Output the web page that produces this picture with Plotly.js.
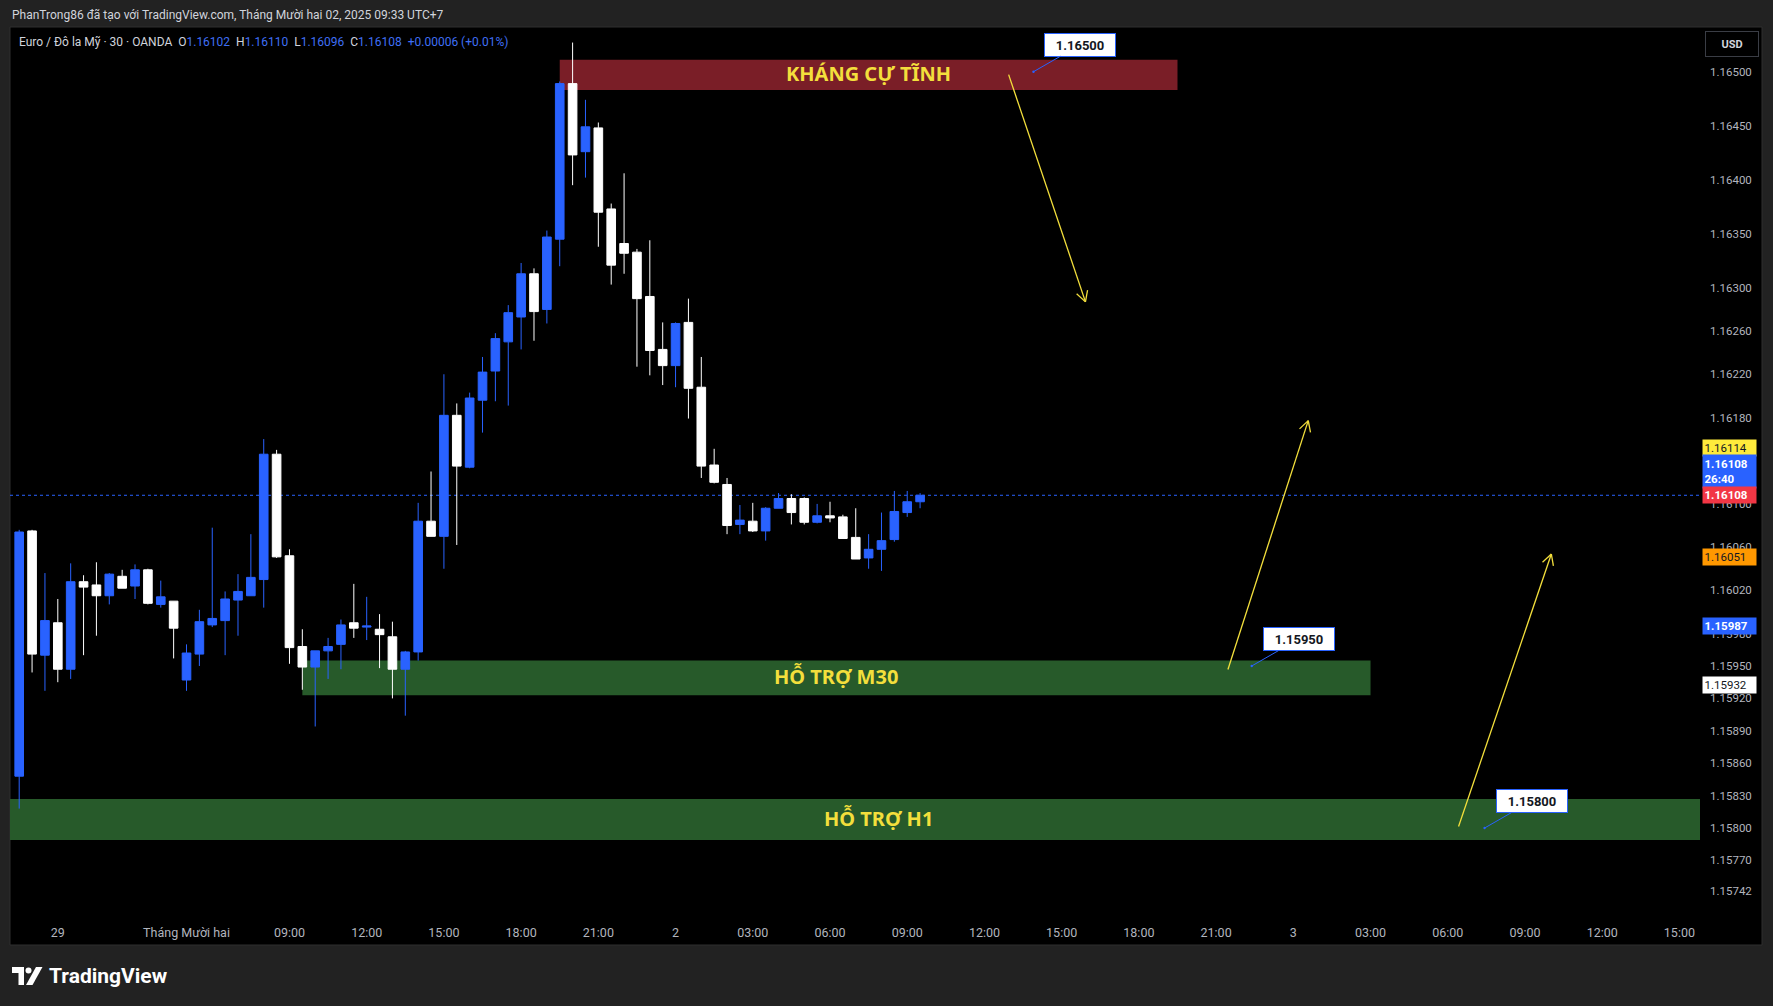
<!DOCTYPE html>
<html><head><meta charset="utf-8">
<script src="https://cdn.plot.ly/plotly-3.0.1.min.js"></script>
<style>html,body{margin:0;padding:0;background:#222222;} #chart{width:1773px;height:1006px;}</style>
</head><body><div id="chart"></div>
<script>
// ---- data (EUR/USD, OANDA, 30 min, index 0 = 28 Nov 22:30 UTC+7) ----
const openP  = [1.15848,1.16075,1.15960,1.15990,1.15947,1.16028,1.16025,1.16015,1.16033,1.16024,
                1.16039,1.16007,1.16010,1.15937,1.15961,1.15988,1.15992,1.16011,1.16015,1.16030,
                1.16146,1.16052,1.15968,1.15949,1.15964,1.15970,1.15990,1.15986,1.15984,1.15977,
                1.15947,1.15963,1.16084,1.16070,1.16182,1.16134,1.16196,1.16223,1.16250,1.16273,
                1.16313,1.16280,1.16345,1.16489,1.16426,1.16448,1.16373,1.16341,1.16333,1.16292,
                1.16243,1.16228,1.16268,1.16208,1.16136,1.16118,1.16081,1.16084,1.16075,1.16096,
                1.16105,1.16105,1.16083,1.16089,1.16088,1.16069,1.16050,1.16058,1.16067,1.16092,
                1.16102];
const highP  = [1.16076,1.16076,1.16036,1.16012,1.16045,1.16034,1.16046,1.16036,1.16039,1.16044,
                1.16040,1.16029,1.16010,1.15970,1.16002,1.16078,1.16019,1.16035,1.16072,1.16160,
                1.16150,1.16058,1.15984,1.15964,1.15976,1.15993,1.16026,1.16014,1.15998,1.15991,
                1.15964,1.16101,1.16130,1.16220,1.16193,1.16203,1.16236,1.16258,1.16284,1.16323,
                1.16318,1.16353,1.16491,1.16527,1.16474,1.16453,1.16378,1.16406,1.16336,1.16344,
                1.16268,1.16268,1.16290,1.16236,1.16151,1.16124,1.16099,1.16101,1.16097,1.16110,
                1.16109,1.16106,1.16100,1.16102,1.16090,1.16096,1.16072,1.16092,1.16112,1.16112,
                1.16110];
const lowP   = [1.15818,1.15944,1.15927,1.15935,1.15938,1.15960,1.15978,1.16007,1.16022,1.16012,
                1.16007,1.16004,1.15957,1.15927,1.15950,1.15986,1.15960,1.15978,1.16015,1.16004,
                1.16050,1.15952,1.15928,1.15894,1.15938,1.15947,1.15976,1.15974,1.15948,1.15920,
                1.15904,1.15955,1.16070,1.16040,1.16062,1.16133,1.16166,1.16195,1.16191,1.16243,
                1.16251,1.16267,1.16320,1.16395,1.16402,1.16338,1.16303,1.16313,1.16227,1.16219,
                1.16210,1.16208,1.16179,1.16124,1.16119,1.16072,1.16072,1.16074,1.16066,1.16096,
                1.16081,1.16081,1.16082,1.16083,1.16068,1.16049,1.16040,1.16038,1.16065,1.16088,
                1.16096];
const closeP = [1.16074,1.15961,1.15992,1.15947,1.16028,1.16023,1.16015,1.16035,1.16022,1.16039,
                1.16008,1.16014,1.15985,1.15962,1.15991,1.15994,1.16012,1.16019,1.16032,1.16146,
                1.16051,1.15967,1.15949,1.15964,1.15968,1.15988,1.15985,1.15987,1.15979,1.15947,
                1.15963,1.16084,1.16070,1.16182,1.16135,1.16198,1.16222,1.16253,1.16277,1.16313,
                1.16278,1.16347,1.16489,1.16423,1.16449,1.16370,1.16321,1.16332,1.16290,1.16242,
                1.16228,1.16267,1.16207,1.16135,1.16120,1.16080,1.16085,1.16075,1.16096,1.16105,
                1.16092,1.16083,1.16089,1.16087,1.16068,1.16049,1.16058,1.16066,1.16093,1.16102,
                1.16108];
const timeTickIdx  = [3,13,21,27,33,39,45,51,57,63,69,75,81,87,93,99,105,111,117,123,129];
const timeTickText = ['29','Tháng Mười hai','09:00','12:00','15:00','18:00','21:00','2','03:00','06:00',
                      '09:00','12:00','15:00','18:00','21:00','3','03:00','06:00','09:00','12:00','15:00'];
const priceTicks = [1.16500,1.16450,1.16400,1.16350,1.16300,1.16260,1.16220,1.16180,1.16100,
                    1.16060,1.16020,1.15980,1.15950,1.15920,1.15890,1.15860,1.15830,1.15800,1.15770,1.15742];
const lastClose = 1.16108;
const zoneNames = ['KHÁNG CỰ TĨNH','HỖ TRỢ M30','HỖ TRỢ H1'];
const zoneLow   = [1.16483,1.15923,1.15789];
const zoneHigh  = [1.16511,1.15955,1.15827];
const calloutPrices = [1.16500,1.15950,1.15800];
const scaleLabelPrices = [1.16114,1.16108,1.16108,1.16051,1.15987,1.15932];
const scaleLabelExtra  = ['','26:40','','','',''];

// ---- geometry ----
const W=1773,H=1006,L=10,R=1700,T=27,B=916;
const xr=[-0.715,130.6], yr=[1.157186,1.165414];
const pxX=i=>L+(i-xr[0])/(xr[1]-xr[0])*(R-L);
const pxY=p=>T+(yr[1]-p)/(yr[1]-yr[0])*(B-T);
const dX=x=>xr[0]+(x-L)/(R-L)*(xr[1]-xr[0]);
const dY=y=>yr[1]-(y-T)/(B-T)*(yr[1]-yr[0]);
const paX=x=>(x-L)/(R-L);
const paY=y=>(B-y)/(B-T);

const idx = openP.map((_,i)=>i);
const BLUE='#2962FF', YEL='#F3DF3C';

const shapes=[];
// chart panel
shapes.push({type:'rect',xref:'paper',yref:'paper',x0:paX(10),x1:paX(1762),y0:paY(945),y1:paY(27),
  fillcolor:'#000000',line:{color:'#2f2f2f',width:1},layer:'below'});
// zones
const zoneX=[[42,90],[22,105],[-5,200]];
const zoneFill=['#7A1E27','#275A2A','#275A2A'];
for(let k=0;k<3;k++){
  shapes.push({type:'rect',xref:'x',yref:'y',x0:zoneX[k][0],x1:zoneX[k][1],y0:zoneLow[k],y1:zoneHigh[k],
    fillcolor:zoneFill[k],line:{width:0},layer:'below'});
}
// current price dotted line
shapes.push({type:'line',xref:'paper',yref:'y',x0:0,x1:1,y0:lastClose,y1:lastClose,
  line:{color:BLUE,width:1,dash:'dot'},layer:'below'});
// yellow arrows (index, price)
const arrows=[[76.88,1.164973,82.85,1.162870],[93.92,1.159468,100.16,1.161771],[111.84,1.158014,119.05,1.160536]];
arrows.forEach(a=>{
  shapes.push({type:'line',xref:'x',yref:'y',x0:a[0],y0:a[1],x1:a[2],y1:a[3],line:{color:YEL,width:1.3}});
  const sx=pxX(a[0]),sy=pxY(a[1]),ex=pxX(a[2]),ey=pxY(a[3]);
  const len=Math.hypot(ex-sx,ey-sy),ux=(ex-sx)/len,uy=(ey-sy)/len;
  [0.5,-0.5].forEach(ang=>{
    const c=Math.cos(ang),s=Math.sin(ang);
    const rx=ux*c-uy*s, ry=ux*s+uy*c;
    const hx=ex-12*rx, hy=ey-12*ry;
    shapes.push({type:'line',xref:'x',yref:'y',x0:a[2],y0:a[3],x1:dX(hx),y1:dY(hy),line:{color:YEL,width:1.3}});
  });
});
// TradingView logo
const P=(x,y)=>paX(x)+','+paY(y);
shapes.push({type:'path',xref:'paper',yref:'paper',path:'M'+P(12,967)+' L'+P(24,967)+' L'+P(24,985)+' L'+P(18.5,985)+' L'+P(18.5,973)+' L'+P(12,973)+' Z',fillcolor:'#ffffff',line:{width:0}});
shapes.push({type:'circle',xref:'paper',yref:'paper',x0:paX(25.5),x1:paX(31.5),y0:paY(973.5),y1:paY(967.5),fillcolor:'#ffffff',line:{width:0}});
shapes.push({type:'path',xref:'paper',yref:'paper',path:'M'+P(26,985)+' L'+P(32.5,985)+' L'+P(42.5,967)+' L'+P(36,967)+' Z',fillcolor:'#ffffff',line:{width:0}});

const annotations=[];
const F='Roboto, "Liberation Sans", Arial, sans-serif';
const sp='&nbsp;&nbsp;';
// header
annotations.push({xref:'paper',yref:'paper',x:paX(10),y:paY(15),xanchor:'left',yanchor:'middle',showarrow:false,
  text:'PhanTrong86 đã tạo với TradingView.com, Tháng Mười hai 02, 2025 09:33 UTC+7',font:{family:F,size:12,color:'#d1d4dc'}});
// legend line
const o=openP[openP.length-1],h=highP[highP.length-1],l=lowP[lowP.length-1],c=closeP[closeP.length-1];
const ch=c-o, chp=ch/o*100;
const bs=v=>'<span style="color:#3f6ff5">'+v+'</span>';
annotations.push({xref:'paper',yref:'paper',x:paX(17),y:paY(42),xanchor:'left',yanchor:'middle',showarrow:false,
  text:'Euro / Đô la Mỹ · 30 · OANDA'+sp+'O'+bs(o.toFixed(5))+sp+'H'+bs(h.toFixed(5))+sp+'L'+bs(l.toFixed(5))+sp+'C'+bs(c.toFixed(5))+sp+bs('+'+ch.toFixed(5)+' (+'+chp.toFixed(2)+'%)'),
  font:{family:F,size:12,color:'#d1d4dc'}});
// USD button
annotations.push({xref:'paper',yref:'paper',x:paX(1731.5),y:paY(44),xanchor:'center',yanchor:'middle',showarrow:false,
  text:'<b>USD</b>',font:{family:F,size:11,color:'#d1d4dc'},bgcolor:'#000000',bordercolor:'#3a3d45',borderwidth:1,borderpad:3,width:46,height:18});
// TradingView wordmark
annotations.push({xref:'paper',yref:'paper',x:paX(47),y:paY(976),xanchor:'left',yanchor:'middle',showarrow:false,
  text:'<b>TradingView</b>',font:{family:F,size:21,color:'#ffffff'}});
// zone labels
const zoneTextX=[66,63.5,66.8];
for(let k=0;k<3;k++){
  annotations.push({xref:'x',yref:'y',x:zoneTextX[k],y:(zoneLow[k]+zoneHigh[k])/2,yshift:1,showarrow:false,
    text:'<b>'+zoneNames[k]+'</b>',font:{family:'"Noto Sans", Roboto, sans-serif',size:20,color:YEL}});
}
// callouts
const calloutX=[78.81,95.77,113.86];
for(let k=0;k<3;k++){
  annotations.push({xref:'x',yref:'y',x:calloutX[k],y:calloutPrices[k],ax:47,ay:-27,showarrow:true,
    arrowhead:6,arrowsize:0.6,arrowwidth:1,arrowcolor:BLUE,standoff:0,
    text:'<b>'+calloutPrices[k].toFixed(5)+'</b>',font:{family:F,size:13,color:'#131722'},
    bgcolor:'#ffffff',bordercolor:BLUE,borderwidth:1,borderpad:3,width:64,height:16});
}
// price-scale labels
const slBg=['#FFEB3B',BLUE,'#F23645','#FF9800',BLUE,'#FFFFFF'];
const slFg=['#131722','#ffffff','#ffffff','#131722','#ffffff','#131722'];
const slShift=[41,24,0,0,0,0];
for(let k=0;k<scaleLabelPrices.length;k++){
  const two=scaleLabelExtra[k]!=='';
  const bold=(k===1||k===2||k===4);
  annotations.push({xref:'paper',yref:'y',x:paX(1702),y:scaleLabelPrices[k],xanchor:'left',yanchor:'middle',yshift:slShift[k],showarrow:false,
    text:(bold?'<b>':'')+scaleLabelPrices[k].toFixed(5)+(two?'<br>'+scaleLabelExtra[k]:'')+(bold?'</b>':''),
    align:'left',font:{family:F,size:11.5,color:slFg[k]},bgcolor:slBg[k],borderpad:1.5,width:50,height:two?30:13});
}

const trace={type:'candlestick',x:idx,open:openP,high:highP,low:lowP,close:closeP,
  increasing:{line:{color:BLUE,width:1},fillcolor:BLUE},
  decreasing:{line:{color:'#FFFFFF',width:1},fillcolor:'#FFFFFF'},
  whiskerwidth:0,hoverinfo:'skip',showlegend:false};

const layout={width:W,height:H,paper_bgcolor:'#222222',plot_bgcolor:'#000000',
  margin:{l:L,r:W-R,t:T,b:H-B,pad:0},showlegend:false,boxgap:0.33,boxgroupgap:0,
  xaxis:{range:xr,tickmode:'array',tickvals:timeTickIdx,ticktext:timeTickText,showgrid:false,zeroline:false,showline:false,
    ticks:'',ticklabelstandoff:7,tickfont:{family:F,size:12.5,color:'#b2b5be'},rangeslider:{visible:false},fixedrange:true},
  yaxis:{range:yr,side:'right',tickmode:'array',tickvals:priceTicks,ticktext:priceTicks.map(v=>v.toFixed(5)),
    showgrid:false,zeroline:false,showline:false,ticks:'',ticklabelstandoff:9,tickfont:{family:F,size:11.5,color:'#b2b5be'},fixedrange:true},
  shapes:shapes,annotations:annotations};
Plotly.newPlot('chart',[trace],layout,{displayModeBar:false,staticPlot:true});
</script></body></html>
